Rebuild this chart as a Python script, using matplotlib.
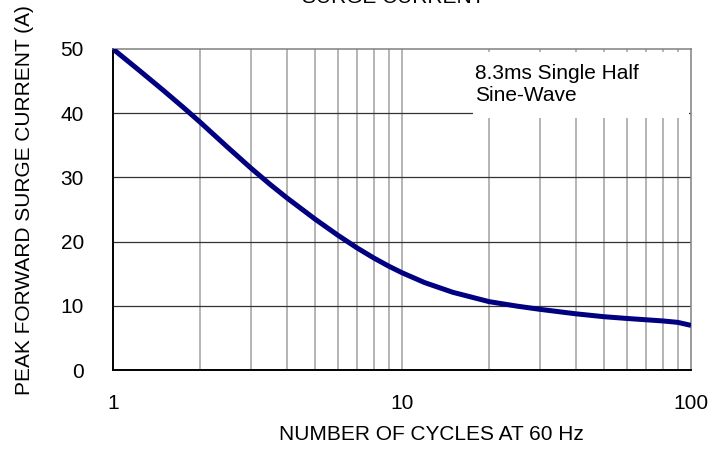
import matplotlib
matplotlib.use("Agg")
from matplotlib import pyplot as plt
from matplotlib.patches import Rectangle

plt.rcParams['font.family'] = ['Liberation Sans', 'DejaVu Sans']

# curve
cycles = [1, 1.25, 1.5, 1.75, 2, 2.5, 3, 3.5, 4, 5, 6, 7, 8, 9, 10, 12, 15, 20, 25, 30,
          40, 50, 60, 70, 80, 90, 100]
current = [50, 46.44, 43.48, 40.91, 38.62, 34.64, 31.45, 28.89, 26.8, 23.51, 20.99, 19.0,
           17.43, 16.17, 15.15, 13.6, 12.1, 10.65, 9.95, 9.45, 8.75, 8.3, 8.03, 7.82,
           7.64, 7.42, 6.95]

x_ticks = [1, 10, 100]
y_ticks = [0, 10, 20, 30, 40, 50]
minor_x = [2, 3, 4, 5, 6, 7, 8, 9, 20, 30, 40, 50, 60, 70, 80, 90]

fig = plt.figure(figsize=(7.19, 4.5), dpi=100)
ax = fig.add_axes([113 / 719, 80 / 450, 578 / 719, 321 / 450])

ax.set_xscale('log')
ax.set_xlim(1, 100)
ax.set_ylim(0, 50)

for xv in minor_x + [10]:
    ax.axvline(xv, color='#a0a0a0', lw=1.1, zorder=1)
for yv in [10, 20, 30, 40]:
    ax.axhline(yv, color='#333333', lw=0.9, zorder=1)

# white box behind the note
ax.add_patch(Rectangle((0.622, 0.785), 0.375, 0.205, transform=ax.transAxes,
                       facecolor='white', edgecolor='none', zorder=2))
ax.text(0.627, 0.888, '8.3ms Single Half\nSine-Wave', transform=ax.transAxes,
        fontsize=15, va='center', ha='left', linespacing=1.2, zorder=3)

ax.plot(cycles, current, color='#000080', lw=3.6, zorder=4,
        solid_capstyle='butt', solid_joinstyle='round')

ax.set_xticks(x_ticks)
ax.set_xticklabels(['1', '10', '100'])
ax.set_xticks([], minor=True)
ax.set_yticks(y_ticks)
ax.tick_params(axis='both', length=0, labelsize=15)
ax.tick_params(axis='x', pad=17)
ax.tick_params(axis='y', pad=21)

for side in ['left', 'bottom']:
    ax.spines[side].set_color('black')
    ax.spines[side].set_linewidth(1.4)
for side in ['top', 'right']:
    ax.spines[side].set_color('#808080')
    ax.spines[side].set_linewidth(1.1)

fig.text(431 / 719, 1 - 435 / 450, 'NUMBER OF CYCLES AT 60 Hz', fontsize=15,
         ha='center', va='center')
fig.text(25 / 719, 1 - 200 / 450, 'PEAK FORWARD SURGE CURRENT (A)', fontsize=15,
         ha='center', va='center', rotation=90)
fig.text(393 / 719, 1 - 3 / 450, 'SURGE CURRENT', fontsize=15,
         ha='center', va='baseline')

fig.savefig('out.png', dpi=100)
